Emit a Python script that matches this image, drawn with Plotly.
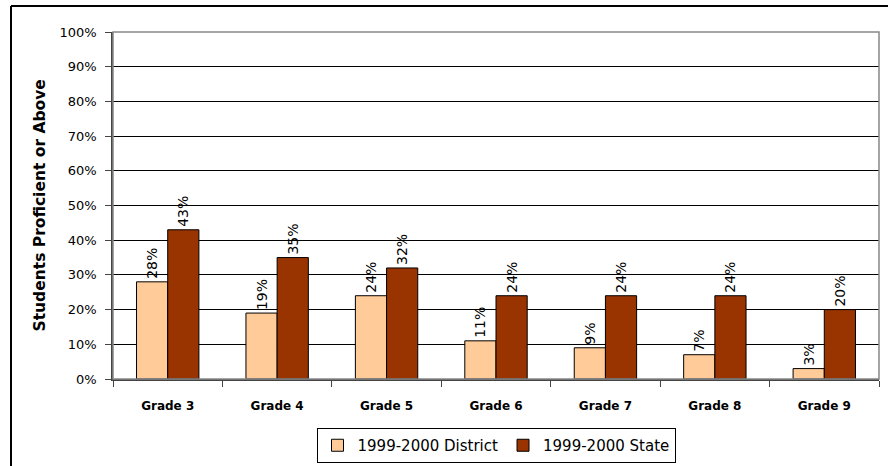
import plotly.graph_objects as go

grades = ["Grade 3", "Grade 4", "Grade 5", "Grade 6", "Grade 7", "Grade 8", "Grade 9"]
district = [28, 19, 24, 11, 9, 7, 3]
state = [43, 35, 32, 24, 24, 24, 20]
series_names = ["1999-2000 District", "1999-2000 State"]
y_ticks = list(range(0, 101, 10))

FONT = "DejaVu Sans, sans-serif"

# plot area in pixels
L, R, T, B = 113, 879, 32, 379
W, H = 888, 466
pw, ph = R - L, B - T

fig = go.Figure()
for name, vals, color in [(series_names[0], district, "#FFCC99"), (series_names[1], state, "#993300")]:
    fig.add_trace(go.Bar(
        x=grades, y=vals, name=name,
        marker=dict(color=color, line=dict(color="black", width=1)),
        text=[f"{v}%" for v in vals], textposition="outside", textangle=-90,
        textfont=dict(family=FONT, size=14, color="black"),
        cliponaxis=False,
    ))

fig.update_layout(
    width=W, height=H,
    margin=dict(l=L, r=W - R, t=T, b=H - B, autoexpand=False),
    paper_bgcolor="white", plot_bgcolor="white",
    barmode="group", bargap=0.43, bargroupgap=0,
    font=dict(family=FONT, size=13, color="black"),
    showlegend=True,
    legend=dict(orientation="h", x=0.5, xanchor="center",
                y=-(463 - B) / ph, yanchor="bottom",
                bordercolor="black", borderwidth=1, font=dict(size=15, family=FONT),
                itemwidth=30),
)

# plot-area frame
fig.add_shape(type="rect", xref="paper", yref="paper", x0=0, x1=1, y0=0, y1=1,
              line=dict(color="#888", width=1.5), layer="above")
# outer chart border (top and left visible)
fig.add_shape(type="line", xref="paper", yref="paper",
              x0=(11 - L) / pw, x1=1.2, y0=(B - 6) / ph, y1=(B - 6) / ph,
              line=dict(color="black", width=2))
fig.add_shape(type="line", xref="paper", yref="paper",
              x0=(11 - L) / pw, x1=(11 - L) / pw, y0=(B - 6) / ph, y1=-0.5,
              line=dict(color="black", width=2))

# y axis title
fig.add_annotation(text="<b>Students Proficient or Above</b>", xref="paper", yref="paper",
                   x=(39 - L) / pw, y=0.5, xanchor="center", yanchor="middle",
                   textangle=-90, showarrow=False,
                   font=dict(size=15.5, family=FONT, color="black"))

fig.update_yaxes(range=[0, 100], tickvals=y_ticks, ticktext=[f"{v}%" for v in y_ticks],
                 showgrid=True, gridcolor="black", gridwidth=1,
                 showline=True, linecolor="#444", linewidth=1.5,
                 ticks="outside", ticklen=6, tickcolor="#444",
                 tickfont=dict(size=13, family=FONT),
                 ticklabelstandoff=6, automargin=False, zeroline=False)
fig.update_xaxes(showline=True, linecolor="#444", linewidth=1.5,
                 ticks="outside", ticklen=6, tickcolor="#444", tickson="boundaries",
                 tickfont=dict(size=12, family=FONT),
                 tickvals=grades, ticktext=[f"<b>{g}</b>" for g in grades],
                 ticklabelstandoff=15, automargin=False)

fig.write_html("out.html", config={"displayModeBar": False},
               post_script="document.body.style.margin='0';document.body.style.overflow='hidden';")
